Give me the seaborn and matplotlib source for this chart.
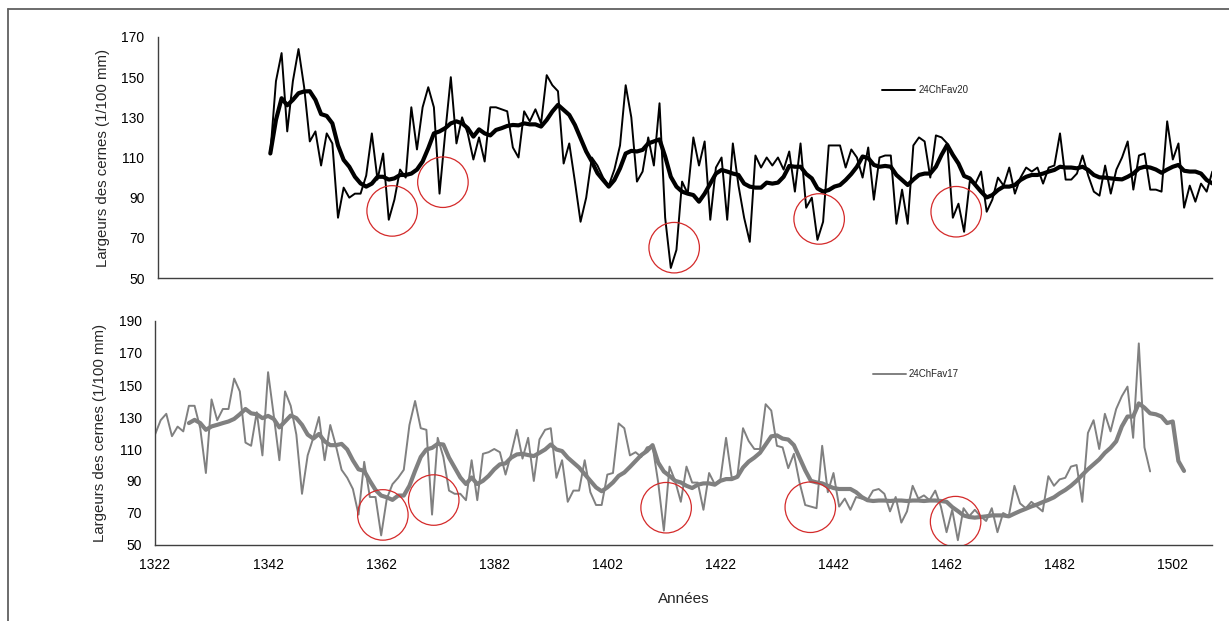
import numpy as np
import matplotlib
matplotlib.use("Agg")
import matplotlib.pyplot as plt
from matplotlib.lines import Line2D
import seaborn as sns

# 24ChFav20 : ring widths 1342-1509 (1/100 mm)
fav20_start = 1342
fav20_raw = [112, 148, 162, 123, 148, 164, 145, 118, 123, 106,
             122, 117, 80, 95, 90, 92, 92, 101, 122, 99,
             112, 79, 89, 104, 100, 135, 114, 135, 145, 135,
             92, 122, 150, 117, 130, 122, 109, 120, 108, 135,
             135, 134, 133, 115, 110, 133, 128, 134, 127, 151,
             146, 143, 107, 117, 98, 78, 90, 110, 106, 100,
             96, 104, 116, 146, 130, 98, 103, 120, 106, 137,
             80, 55, 64, 98, 92, 120, 106, 118, 79, 105,
             110, 79, 117, 96, 80, 68, 111, 105, 110, 106,
             110, 104, 113, 93, 117, 85, 90, 69, 78, 116,
             116, 116, 105, 114, 110, 100, 115, 89, 110, 111,
             111, 77, 94, 77, 116, 120, 118, 100, 121, 120,
             117, 80, 87, 73, 98, 97, 103, 83, 89, 100,
             96, 105, 92, 100, 105, 103, 105, 97, 105, 106,
             122, 99, 99, 102, 111, 101, 93, 91, 106, 92,
             104, 110, 118, 94, 111, 112, 94, 94, 93, 128,
             109, 117, 85, 96, 88, 97, 93, 103]
fav20_smooth = [112, 128.7, 139.5, 136, 138.7, 142, 142.9, 143, 138.7, 131.6,
                130.7, 127, 116, 108.8, 105.4, 100.4, 97.1, 95.5, 97, 100.4,
                100.4, 99, 99.6, 101.3, 101.3, 102, 104, 108, 114.6, 122,
                123, 124.6, 127, 128, 127, 124.6, 120.4, 124, 122, 121,
                123.7, 124.6, 125.7, 126.2, 126, 127, 126.5, 126.5, 125.4, 128.7,
                132.9, 136.2, 133.7, 131.2, 126.2, 119.6, 113, 108, 102.2, 98.8,
                95.5, 98.8, 104.6, 112, 113.3, 113, 113.8, 117, 118, 119,
                110.5, 100.4, 95.5, 93, 92, 91.3, 88, 92, 97, 102,
                103.8, 103, 102, 101.3, 97, 95.5, 95, 95, 97.5, 97,
                97.5, 100.4, 105.8, 105.4, 105.4, 101.8, 99.6, 94.6, 93, 93.8,
                95.5, 96.3, 98.8, 101.8, 105.4, 110.5, 109.7, 106.3, 105.4, 105.8,
                105.4, 101.3, 98.8, 96.3, 99, 101.3, 102, 102, 105.4, 111.3,
                116.3, 111.3, 107, 100.8, 99.6, 96.3, 93, 90.1, 91.3, 93.8,
                95.5, 95.5, 96.3, 98.8, 100.4, 101.3, 101.3, 102, 103, 103.8,
                105.4, 105, 105, 104.6, 105.4, 103.8, 101.3, 100.1, 100, 99.6,
                99.3, 99.1, 100.4, 102, 104.6, 105.4, 105, 104, 102.4, 104,
                105.4, 106.3, 103.4, 103, 103, 102, 98.8, 97.1]

# 24ChFav17 : ring widths 1322-1498, smoothed curve 1328-1504
fav17_start = 1322
fav17_raw = [119, 128, 132, 118, 124, 121, 137, 137, 123, 95,
             141, 128, 135, 135, 154, 146, 114, 112, 133, 106,
             158, 131, 103, 146, 137, 119, 82, 106, 117, 130,
             103, 125, 112, 97, 92, 85, 69, 102, 80, 80,
             56, 79, 88, 92, 97, 125, 140, 123, 122, 69,
             117, 105, 84, 82, 82, 78, 103, 78, 107, 108,
             110, 108, 94, 107, 122, 104, 117, 90, 116, 122,
             123, 92, 103, 77, 84, 84, 103, 83, 75, 75,
             94, 95, 126, 123, 106, 108, 105, 111, 112, 89,
             59, 99, 90, 77, 99, 89, 89, 72, 95, 88,
             91, 117, 92, 93, 123, 115, 110, 110, 138, 134,
             112, 111, 98, 107, 89, 75, 74, 73, 112, 83,
             95, 74, 79, 72, 80, 79, 78, 84, 85, 82,
             71, 80, 64, 71, 87, 79, 81, 78, 84, 74,
             58, 72, 53, 73, 68, 72, 68, 65, 73, 58,
             70, 68, 87, 76, 73, 77, 74, 71, 93, 87,
             91, 92, 99, 100, 77, 120, 128, 110, 132, 121,
             135, 143, 149, 117, 176, 111, 96]
fav17_smooth_start = 1328
fav17_smooth = [126.2, 128.2, 126.2, 122, 124.1, 125.1, 126.2, 127.2, 128.8, 131.7,
                135, 132.3, 131.7, 129.3, 130.7, 128.8, 123.5, 127.2, 130.9, 129.3,
                125.1, 119, 116.5, 119.4, 114.8, 112.4, 112.4, 113.2, 109.7, 102.9,
                97.3, 96.3, 90.1, 84.4, 80.9, 79.8, 78.2, 80.9, 80.9, 87,
                96.3, 105, 109.7, 110.7, 113.2, 112.8, 104.6, 98.4, 92.2, 88.1,
                92.2, 88.1, 90.1, 93.2, 97.3, 100.4, 101, 104.6, 106.6, 107,
                106.2, 105.6, 107.6, 109.7, 112.8, 109.7, 108.7, 104.6, 101.5, 98.4,
                94.3, 90.1, 86, 83.6, 86, 89.1, 93.2, 95.3, 98.8, 102.5,
                106.2, 108.7, 112.4, 101.5, 95.9, 93.2, 90.1, 89.1, 87, 85.6,
                87.7, 88.5, 88.5, 87.7, 90.1, 91.2, 91.2, 92.6, 98.4, 102.1,
                104.6, 107.6, 112.8, 117.9, 118.5, 116.5, 115.9, 112.4, 104.6, 96.7,
                90.1, 89.1, 88.5, 87, 85.6, 85, 85, 85, 83, 80,
                78, 77.5, 77.8, 77.8, 77.5, 77.8, 77.8, 77.5, 77.8, 77.8,
                77.5, 77.8, 77.8, 77.5, 77, 73.7, 71.2, 68.5, 67.5, 67.1,
                67.5, 67.9, 68.5, 68.5, 68.5, 67.9, 69.6, 71.2, 72.6, 74.1,
                75.3, 76.8, 78.2, 79.8, 82.3, 84.4, 87, 90.1, 93.8, 97.3,
                100.4, 103.5, 107.6, 110.7, 114.8, 124.1, 130.3, 130.3, 138.5, 135.8,
                132.3, 131.7, 130.3, 126.2, 127.2, 102.5, 96.3]

# red circles marking narrow rings (year, width)
top_circle_years = [1363.6, 1372.6, 1413.6, 1439.3, 1463.6]
top_circle_vals = [83.4, 97.7, 65.1, 79.4, 83.0]
bot_circle_years = [1362.3, 1371.3, 1412.4, 1437.9, 1463.6]
bot_circle_vals = [68.8, 78.1, 73.3, 73.6, 64.6]

year_ticks = list(range(1322, 1503, 20))

sns.set_theme(style="white")
plt.rcParams["font.family"] = ["Liberation Sans", "DejaVu Sans"]

W, H = 1229, 621
fig = plt.figure(figsize=(W / 100, H / 100), dpi=100)


def px_axes(left, top, right, bottom):
    return fig.add_axes([left / W, 1 - bottom / H, (right - left) / W, (bottom - top) / H])


ax1 = px_axes(157.5, 37, 1212.3, 278)
ax2 = px_axes(155, 321, 1212.3, 545)


def years_from(start, n):
    return np.arange(start, start + n)


sns.lineplot(x=years_from(fav20_start, len(fav20_raw)), y=fav20_raw, ax=ax1,
             color="black", lw=1.4, label="24ChFav20")
sns.lineplot(x=years_from(fav20_start, len(fav20_smooth)), y=fav20_smooth, ax=ax1,
             color="black", lw=3.0, legend=False)

sns.lineplot(x=years_from(fav17_start, len(fav17_raw)), y=fav17_raw, ax=ax2,
             color="#808080", lw=1.4, label="24ChFav17")
sns.lineplot(x=years_from(fav17_smooth_start, len(fav17_smooth)), y=fav17_smooth, ax=ax2,
             color="#808080", lw=3.0, legend=False)

ax1.scatter(top_circle_years, top_circle_vals, s=1322, marker="o",
            facecolors="none", edgecolors="#d42a2a", linewidths=0.9, zorder=5)
ax2.scatter(bot_circle_years, bot_circle_vals, s=1322, marker="o",
            facecolors="none", edgecolors="#d42a2a", linewidths=0.9, zorder=5)

for ax, ymax in ((ax1, 170), (ax2, 190)):
    ax.set_xlim(1322, 1509)
    ax.set_ylim(50, ymax)
    ax.set_yticks(range(50, ymax + 1, 20))
    ax.set_xticks(year_ticks)
    ax.set_facecolor("white")
    for side in ("top", "right"):
        ax.spines[side].set_visible(False)
    for side in ("left", "bottom"):
        ax.spines[side].set_color("#404040")
        ax.spines[side].set_linewidth(1.0)
    ax.tick_params(axis="both", direction="out", length=3.6, width=0.8,
                   color="#404040", labelsize=10, labelcolor="black")
    ax.tick_params(axis="y", pad=5.8)
    ax.tick_params(axis="x", pad=6)
    ax.set_ylabel("Largeurs des cernes (1/100 mm)", fontsize=10.8)
    ax.set_xlabel("")

ax1.set_xticklabels([])
ax2.set_xticklabels([str(y) for y in year_ticks])
ax2.set_xlabel("Années", fontsize=11)
ax2.xaxis.set_label_coords(0.5, -0.21)
ax1.yaxis.set_label_coords(-0.045, 0.5)
ax2.yaxis.set_label_coords(-0.045, 0.5)

ax1.legend(loc="center left", bbox_to_anchor=(0.687, 0.78), frameon=False,
           fontsize=7, handlelength=3.4, handletextpad=0.3,
           borderaxespad=0, borderpad=0)
ax2.legend(loc="center left", bbox_to_anchor=(0.679, 0.763), frameon=False,
           fontsize=7, handlelength=3.4, handletextpad=0.3,
           borderaxespad=0, borderpad=0)

# chart frame (left and top edges visible)
fig.add_artist(Line2D([8 / W, 8 / W], [0, 1 - 9 / H], transform=fig.transFigure,
                      color="#606060", lw=1.3))
fig.add_artist(Line2D([8 / W, 1], [1 - 9 / H, 1 - 9 / H], transform=fig.transFigure,
                      color="#606060", lw=1.3))

fig.savefig("out.png", dpi=100, facecolor="white")
